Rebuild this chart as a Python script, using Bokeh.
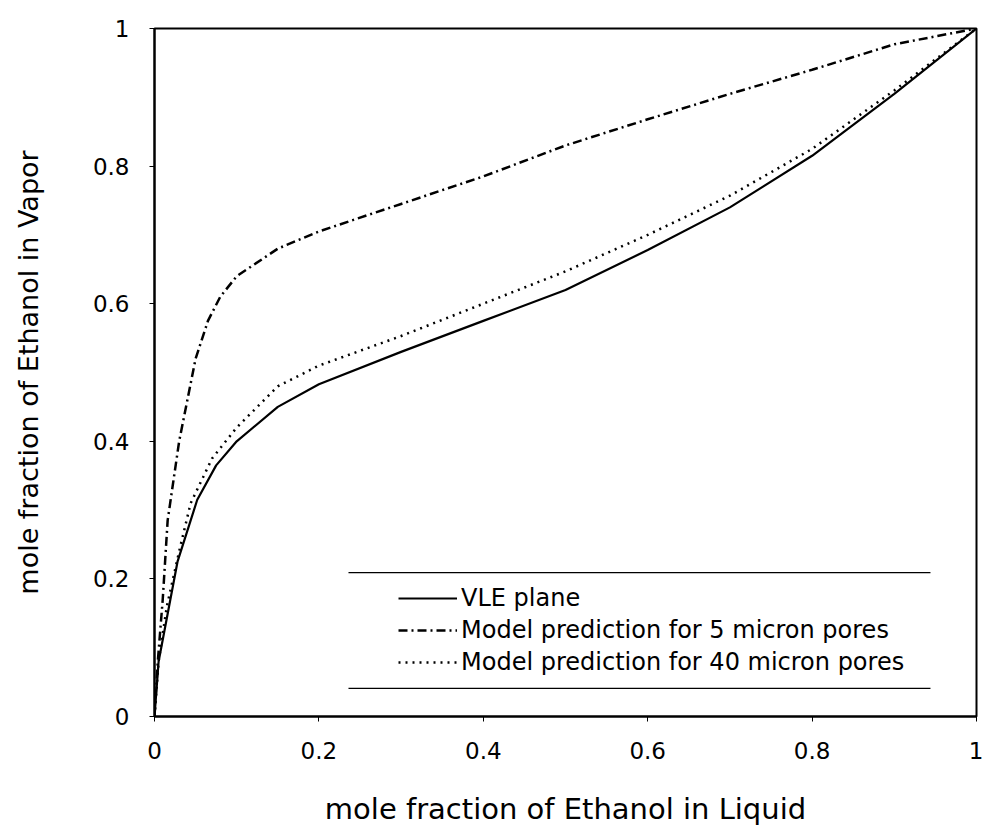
from bokeh.plotting import figure
from bokeh.models import Legend, LegendItem, FixedTicker, Range1d
from bokeh.embed import file_html
from bokeh.resources import INLINE

# ---- data ----
x_vle = [0.0, 0.005, 0.028, 0.052, 0.075, 0.1, 0.15, 0.2, 0.3, 0.4, 0.5, 0.6, 0.7, 0.8, 0.9, 1.0]
y_vle = [0.0, 0.08, 0.225, 0.315, 0.365, 0.40, 0.45, 0.483, 0.53, 0.575, 0.62, 0.678, 0.74, 0.815, 0.905, 1.0]

x_5um = [0.0, 0.004, 0.01, 0.016, 0.03, 0.05, 0.065, 0.08, 0.1, 0.15, 0.2, 0.3, 0.4, 0.5, 0.6, 0.7, 0.8, 0.9, 1.0]
y_5um = [0.0, 0.08, 0.17, 0.285, 0.40, 0.52, 0.575, 0.61, 0.64, 0.68, 0.705, 0.745, 0.785, 0.83, 0.868, 0.905, 0.94, 0.977, 1.0]

x_40um = [0.0, 0.005, 0.015, 0.03, 0.044, 0.07, 0.1, 0.15, 0.2, 0.3, 0.4, 0.5, 0.6, 0.7, 0.8, 0.9, 1.0]
y_40um = [0.0, 0.08, 0.16, 0.24, 0.31, 0.375, 0.42, 0.48, 0.51, 0.553, 0.60, 0.647, 0.70, 0.757, 0.825, 0.91, 1.0]

ticks = [0, 0.2, 0.4, 0.6, 0.8, 1]
tick_labels = {0: "0", 0.2: "0.2", 0.4: "0.4", 0.6: "0.6", 0.8: "0.8", 1: "1"}

series_names = ["VLE plane",
                "Model prediction for 5 micron pores",
                "Model prediction for 40 micron pores"]

# legend frame rules (decoration, in data units)
legend_rule_x = [0.236, 0.944]
legend_rule_y = [0.209, 0.041]

FONT = "DejaVu Sans"

p = figure(width=983, height=828, output_backend="svg", toolbar_location=None,
           x_range=Range1d(0, 1), y_range=Range1d(0, 1),
           min_border_left=154, min_border_right=7, min_border_top=28, min_border_bottom=112)
p.xgrid.visible = False
p.ygrid.visible = False
p.outline_line_color = "black"
p.outline_line_width = 2
p.background_fill_color = "white"
p.border_fill_color = "white"

for ax in (p.xaxis[0], p.yaxis[0]):
    ax.ticker = FixedTicker(ticks=ticks)
    ax.major_label_overrides = tick_labels
    ax.axis_line_color = "black"
    ax.axis_line_width = 2
    ax.major_tick_out = 5
    ax.major_tick_in = 0
    ax.major_tick_line_color = "black"
    ax.minor_tick_line_color = None
    ax.major_label_text_font = FONT
    ax.major_label_text_font_size = "23px"
    ax.major_label_text_color = "black"
    ax.axis_label_text_font = FONT
    ax.axis_label_text_font_style = "normal"
    ax.axis_label_text_color = "black"

p.xaxis.axis_label = "mole fraction of Ethanol in Liquid"
p.yaxis.axis_label = "mole fraction of Ethanol in Vapor"
p.xaxis.axis_label_text_font_size = "29px"
p.yaxis.axis_label_text_font_size = "27px"
p.xaxis.major_label_standoff = 20
p.yaxis.major_label_standoff = 20
p.xaxis.axis_label_standoff = 30
p.yaxis.axis_label_standoff = 46

r1 = p.line(x_vle, y_vle, line_color="black", line_width=2.2)
r2 = p.line(x_5um, y_5um, line_color="black", line_width=2.5, line_dash="9 4 2 4")
r3 = p.line(x_40um, y_40um, line_color="black", line_width=2.5, line_dash="2 5")

for ry in legend_rule_y:
    p.line(legend_rule_x, [ry, ry], line_color="black", line_width=1.2)

legend = Legend(items=[LegendItem(label=series_names[0], renderers=[r1]),
                       LegendItem(label=series_names[1], renderers=[r2]),
                       LegendItem(label=series_names[2], renderers=[r3])],
                location=(244, 40), padding=0, margin=0, spacing=4,
                glyph_width=59, glyph_height=20, label_height=20, label_standoff=4,
                label_text_font=FONT, label_text_font_size="24px",
                label_text_color="black",
                border_line_alpha=0, background_fill_alpha=0)
p.add_layout(legend, "center")

open("out.html", "w").write(file_html(p, INLINE))
